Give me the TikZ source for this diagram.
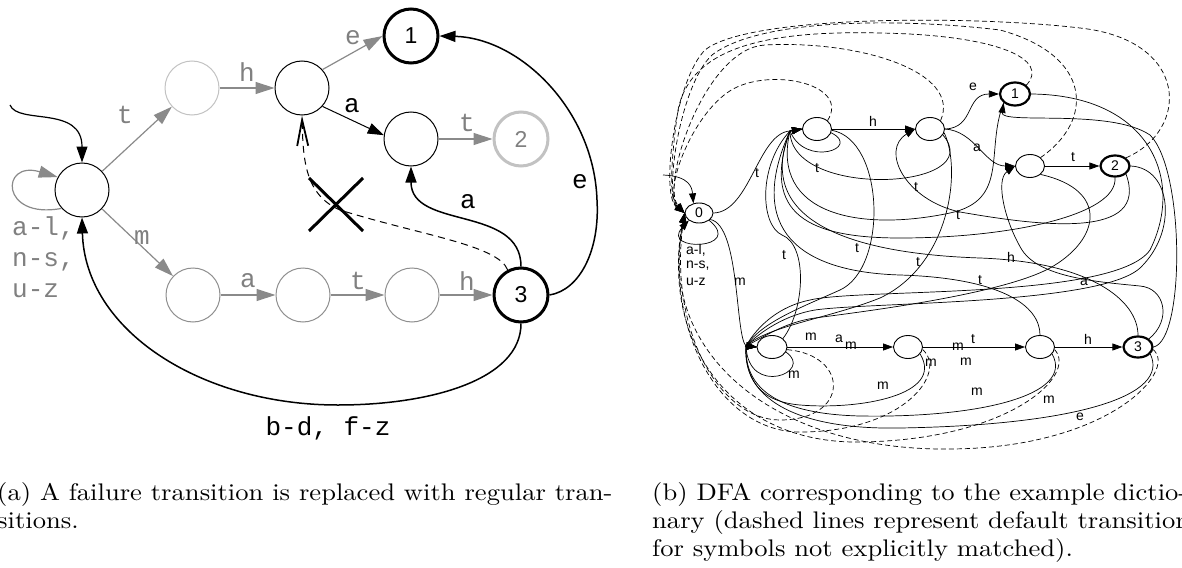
\documentclass[tikz,border=0pt]{standalone}
\usepackage{fontspec}
\newfontfamily\monofam{Liberation Mono}
\newfontfamily\sansfam{Liberation Sans}
\newfontfamily\capfont{lmroman10-regular}[Extension=.otf,FakeStretch=1.108]
\usetikzlibrary{arrows.meta,shapes.geometric}
\definecolor{edgegrey}{HTML}{8A8A8A}
\definecolor{stategrey}{HTML}{8E8E8E}
\definecolor{palegrey}{HTML}{C2C2C2}
\definecolor{labelgrey}{HTML}{808080}
\tikzset{
  % left automaton
  fsa/.style={circle,draw,line width=1pt,minimum size=54pt,inner sep=0pt,
    font=\sansfam\fontsize{23}{23}\selectfont},
  fsacc/.style={line width=3pt},
  greyedge/.style={draw=edgegrey,line width=1.2pt,-{Triangle[length=19pt,width=12pt]}},
  blackedge/.style={line width=1.5pt,-{Triangle[length=16pt,width=11pt]}},
  mlab/.style={inner sep=0pt,font=\monofam\fontsize{26}{26}\selectfont},
  glab/.style={mlab,text=labelgrey},
  % right automaton
  dstate/.style={ellipse,draw,line width=0.9pt,minimum width=29pt,minimum height=23pt,
    inner sep=0pt,font=\sansfam\fontsize{14}{14}\selectfont},
  dacc/.style={line width=2.2pt},
  dedge/.style={line width=0.7pt},
  dtip/.style={-{Triangle[length=10pt,width=7pt]}},
  ddash/.style={line width=0.7pt,dash pattern=on 5pt off 3pt,-{Triangle[length=10pt,width=7pt]}},
  slab/.style={inner sep=0pt,font=\sansfam\fontsize{14}{14}\selectfont},
  captext/.style={anchor=base west,inner sep=0pt,font=\capfont\fontsize{24}{28}\selectfont},
}
\begin{document}
\begin{tikzpicture}[x=1pt,y=-1pt]
\useasboundingbox (0,0) rectangle (1182,567);
\clip (0,0) rectangle (1182,567);

%% ---------------- (a) failure transition replaced ----------------
\node[fsa] (q0) at (82,190) {};
\node[fsa,draw=palegrey] (qt) at (192,88) {};
\node[fsa] (qth) at (302,88) {};
\node[fsa,fsacc] (q1) at (411,36) {1};
\node[fsa] (qtha) at (411,139) {};
\node[fsa,fsacc,draw=palegrey,text=labelgrey] (q2) at (521,139) {2};
\node[fsa,draw=stategrey] (qm) at (193,295) {};
\node[fsa,draw=stategrey] (qma) at (303,295) {};
\node[fsa,draw=stategrey] (qmat) at (412,295) {};
\node[fsa,fsacc] (q3) at (521,295) {3};

\coordinate (qin) at (10,105);
\draw[blackedge,line width=1.2pt] (qin) .. controls (18,125) and (82,105) .. (q0.north);
\draw[greyedge] (q0.222) .. controls (0,220) and (0,160) .. (q0.152);

\draw[greyedge] (q0) -- (qt);
\draw[greyedge] (q0) -- (qm);
\draw[greyedge] (qt) -- (qth);
\draw[greyedge] (qth.42) -- (q1.west);
\draw[blackedge,line width=1pt] (qth.-42) -- (qtha.172);
\draw[greyedge] (qtha) -- (q2);
\draw[greyedge] (qm) -- (qma);
\draw[greyedge] (qma) -- (qmat);
\draw[greyedge] (qmat) -- (q3);

\draw[blackedge] (q3.north) .. controls (521,205) and (411,230) .. (qtha.south);
\draw[blackedge] (q3.east) .. controls (580,290) and (600,250) .. (597,200)
   .. controls (594,110) and (520,38) .. (q1.east);
\draw[blackedge] (q3.south) .. controls (521,380) and (430,405) .. (338,405)
   .. controls (200,405) and (85,330) .. (q0.south);
\draw[line width=1pt,dash pattern=on 7pt off 5pt,
      -{Straight Barb[length=26pt,width=11pt,line width=1.8pt]}]
   (q3.118) .. controls (498,245) and (420,235) .. (340,210)
   .. controls (305,195) and (303,160) .. (qth.south);
\coordinate (xa) at (309,178);
\coordinate (xb) at (363,231);
\coordinate (xc) at (363,178);
\coordinate (xd) at (309,231);
\draw[line width=3pt] (xa) -- (xb);
\draw[line width=3pt] (xc) -- (xd);

\node[glab] (la1) at (125,115) {t};
\node[glab] (la2) at (142,238) {m};
\node[glab] (la3) at (247,72) {h};
\node[glab] (la4) at (353,38) {e};
\node[mlab] (la5) at (352,106) {a};
\node[glab] (la6) at (467,123) {t};
\node[glab] (la7) at (248,281) {a};
\node[glab] (la8) at (358,281) {t};
\node[glab] (la9) at (467,281) {h};
\node[mlab] (la10) at (468,202) {a};
\node[mlab] (la11) at (580,182) {e};
\node[mlab] (la12) at (328,428) {b-d, f-z};
\node[glab,anchor=base west] (la13) at (12,235) {a-l,};
\node[glab,anchor=base west] (la14) at (12,266) {n-s,};
\node[glab,anchor=base west] (la15) at (12,297) {u-z};

%% ---------------- (b) DFA of the dictionary ----------------
\node[dstate,minimum width=28pt,minimum height=20pt] (b0) at (699,213) {0};
\node[dstate] (bt) at (817,129) {};
\node[dstate] (bth) at (930,129) {};
\node[dstate,dacc,minimum width=30pt] (b1) at (1015,94) {1};
\node[dstate] (btha) at (1030,166) {};
\node[dstate,dacc,minimum height=21pt] (b2) at (1115,166) {2};
\node[dstate,minimum width=30pt] (bm) at (772,347) {};
\node[dstate] (bma) at (908,347) {};
\node[dstate] (bmat) at (1040,347) {};
\node[dstate,dacc,minimum height=21pt] (b3) at (1138,347) {3};

\coordinate (tj) at (790,131);
\coordinate (mj) at (746,346);
\coordinate (bin) at (663,175);

% start arrow and self loop of the initial state
\draw[dedge,dtip] (bin) .. controls (690,176) and (692,188) .. (b0.120);
\draw[dedge,dtip] (b0.south east) .. controls (745,250) and (660,252) .. (b0.south west);

% spine of the trie
\draw[dedge,dtip] (b0.east) .. controls (750,212) and (758,133) .. (tj) -- (bt.west);
\draw[dedge,dtip] (bt) -- (bth);
\draw[dedge,dtip] (bth.east) .. controls (975,128) and (965,94) .. (b1.west);
\draw[dedge,dtip] (bth.east) .. controls (975,131) and (985,166) .. (btha.west);
\draw[dedge,dtip] (btha) -- (b2);
\draw[dedge,dtip] (b0.-30) .. controls (740,225) and (735,335) .. (mj) -- (bm.west);
\draw[dedge,dtip] (bm) -- (bma);
\draw[dedge,dtip] (bma) -- (bmat);
\draw[dedge,dtip] (bmat) -- (b3);

% transitions on t
\draw[dedge,dtip] (bt.-15) .. controls (862,148) and (805,168) .. (tj) -- (bt.west);
\draw[dedge,dtip] (bth.-25) .. controls (990,190) and (790,200) .. (tj) -- (bt.west);
\draw[dedge,dtip] (b1.south west) .. controls (985,150) and (1010,200) .. (950,213)
   .. controls (860,232) and (770,215) .. (tj) -- (bt.west);
\draw[dedge,dtip] (b2.south) .. controls (1118,215) and (1010,238) .. (900,238)
   .. controls (810,238) and (760,215) .. (tj) -- (bt.west);
\draw[dedge,dtip] (b3.north) .. controls (1138,300) and (1090,262) .. (980,258)
   .. controls (860,254) and (752,225) .. (tj) -- (bt.west);
\draw[dedge,dtip] (bmat.north) .. controls (1040,305) and (1000,278) .. (900,275)
   .. controls (800,272) and (745,230) .. (tj) -- (bt.west);
\draw[dedge,dtip] (bm.north east) .. controls (805,310) and (808,245) .. (782,235)
   .. controls (760,225) and (758,165) .. (tj) -- (bt.west);

% transitions on m
\draw[dedge,dtip] (bm.-20) .. controls (815,372) and (748,398) .. (mj) -- (bm.west);
\draw[dedge,dtip] (bma.-30) .. controls (945,395) and (860,410) .. (800,405)
   .. controls (765,402) and (745,385) .. (mj) -- (bm.west);
\draw[dedge,dtip] (bmat.-30) .. controls (1075,395) and (980,418) .. (860,416)
   .. controls (780,414) and (744,390) .. (mj) -- (bm.west);
\draw[dedge,dtip] (b3.-30) .. controls (1170,395) and (1080,425) .. (900,428)
   .. controls (790,430) and (742,395) .. (mj) -- (bm.west);
\draw[dedge,dtip] (bt.-5) .. controls (885,140) and (888,268) .. (840,290)
   .. controls (800,308) and (762,322) .. (mj) -- (bm.west);
\draw[dedge,dtip] (bth.-15) .. controls (962,170) and (950,265) .. (880,298)
   .. controls (830,318) and (768,326) .. (mj) -- (bm.west);
\draw[dedge,dtip] (b1.east) .. controls (1150,95) and (1185,180) .. (1150,250)
   .. controls (1115,300) and (860,288) .. (810,300)
   .. controls (780,306) and (758,325) .. (mj) -- (bm.west);
\draw[dedge,dtip] (b2.east) .. controls (1172,168) and (1178,232) .. (1140,268)
   .. controls (1100,305) and (870,302) .. (815,310)
   .. controls (785,315) and (760,332) .. (mj) -- (bm.west);
\draw[dedge,dtip] (btha.south east) .. controls (1110,190) and (1100,240) .. (1050,268)
   .. controls (1000,295) and (860,312) .. (815,318)
   .. controls (785,322) and (762,338) .. (mj) -- (bm.west);

% back transitions on a, h, e
\draw[dedge,dtip] (b3.north east) .. controls (1172,320) and (1165,288) .. (1140,286)
   .. controls (1100,282) and (1040,278) .. (1022,250)
   .. controls (1005,222) and (995,180) .. (btha.west);
\draw[dedge,dtip] (b2.south east) .. controls (1150,240) and (1040,226) .. (960,212)
   .. controls (905,200) and (880,150) .. (bth.west);
\draw[dedge,dtip] (b3.east) .. controls (1185,340) and (1185,170) .. (1150,135)
   .. controls (1110,108) and (1000,125) .. (b1.south west);

% default transitions
\draw[ddash] (bt.north east) .. controls (850,85) and (775,68) .. (735,88)
   .. controls (695,108) and (662,190) .. (b0.west);
\draw[ddash] (bth.north east) .. controls (962,72) and (860,40) .. (765,45)
   .. controls (705,48) and (660,185) .. (b0.west);
\draw[ddash] (b1.north east) .. controls (1050,60) and (1000,35) .. (880,33)
   .. controls (760,30) and (690,50) .. (678,110)
   .. controls (672,150) and (668,200) .. (b0.west);
\draw[ddash] (btha.north east) .. controls (1095,120) and (1092,55) .. (1000,30)
   .. controls (900,18) and (760,18) .. (712,55)
   .. controls (680,85) and (664,195) .. (b0.west);
\draw[ddash] (b2.north east) .. controls (1190,130) and (1190,40) .. (1080,28)
   .. controls (980,16) and (750,14) .. (705,50)
   .. controls (675,80) and (660,195) .. (b0.west);
\draw[ddash] (bm.-10) .. controls (850,355) and (850,420) .. (780,420)
   .. controls (720,420) and (668,330) .. (b0.west);
\draw[ddash] (bma.-10) .. controls (948,372) and (905,432) .. (800,432)
   .. controls (720,432) and (664,330) .. (b0.west);
\draw[ddash] (bmat.-10) .. controls (1078,375) and (1010,440) .. (860,442)
   .. controls (730,444) and (660,340) .. (b0.west);
\draw[ddash] (b3.-10) .. controls (1178,370) and (1110,448) .. (950,449)
   .. controls (770,451) and (656,350) .. (b0.west);

% edge labels
\node[slab] (lb1) at (973,87) {e};
\node[slab] (lb2) at (873,121) {h};
\node[slab] (lb3) at (977,148) {a};
\node[slab] (lb4) at (1073,157) {t};
\node[slab] (lb5) at (757,173) {t};
\node[slab] (lb6) at (817,168) {t};
\node[slab] (lb7) at (916,187) {t};
\node[slab] (lb8) at (958,215) {t};
\node[slab] (lb9) at (857,248) {t};
\node[slab] (lb10) at (784,255) {t};
\node[slab] (lb11) at (918,262) {t};
\node[slab] (lb12) at (1011,257) {h};
\node[slab] (lb13) at (980,280) {t};
\node[slab] (lb14) at (1084,282) {a};
\node[slab,anchor=west] (lb15) at (686,250) {a-l,};
\node[slab,anchor=west] (lb16) at (686,266) {n-s,};
\node[slab,anchor=west] (lb17) at (686,282) {u-z};
\node[slab] (lb18) at (740,282) {m};
\node[slab] (lb19) at (811,337) {m};
\node[slab] (lb20) at (839,339) {a};
\node[slab] (lb21) at (851,346) {m};
\node[slab] (lb22) at (794,375) {m};
\node[slab] (lb23) at (883,386) {m};
\node[slab] (lb24) at (931,363) {m};
\node[slab] (lb25) at (973,339) {t};
\node[slab] (lb26) at (958,347) {m};
\node[slab] (lb27) at (966,362) {m};
\node[slab] (lb28) at (1088,339) {h};
\node[slab] (lb29) at (977,392) {m};
\node[slab] (lb30) at (1049,400) {m};
\node[slab] (lb31) at (1080,417) {e};

%% ---------------- captions ----------------
\node[captext] (capa1) at (-3,500) {(a) A failure transition is replaced with regular tran-};
\node[captext] (capa2) at (-3,528) {sitions.};
\node[captext] (capb1) at (652,500) {(b) DFA corresponding to the example dictio-};
\node[captext] (capb2) at (652,528) {nary (dashed lines represent default transitions};
\node[captext] (capb3) at (652,556) {for symbols not explicitly matched).};
\end{tikzpicture}
\end{document}
